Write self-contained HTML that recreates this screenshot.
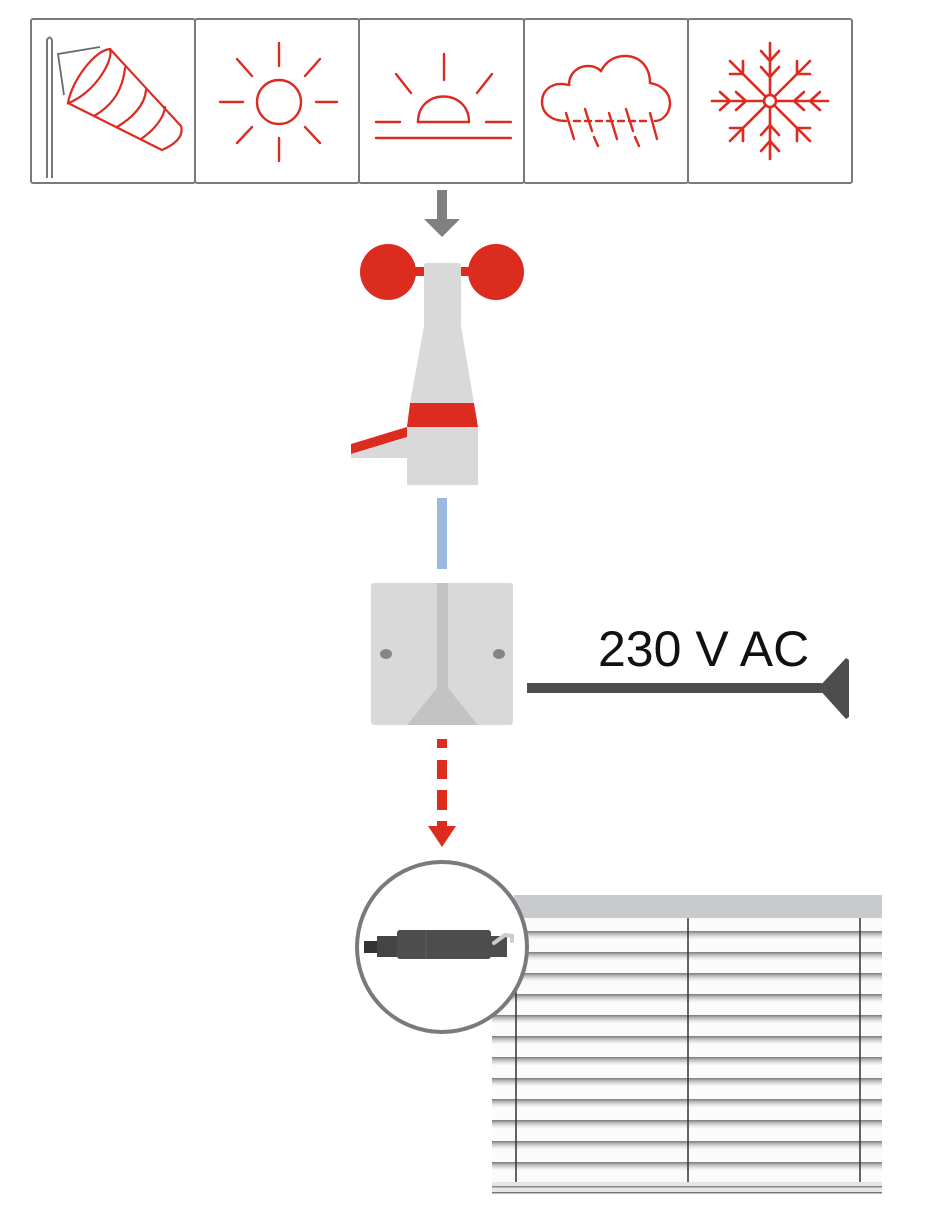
<!DOCTYPE html>
<html><head><meta charset="utf-8"><style>
html,body{margin:0;padding:0;background:#fff;}
svg{display:block;}
</style></head><body>
<svg width="948" height="1217" viewBox="0 0 948 1217" xmlns="http://www.w3.org/2000/svg">
<defs>
<linearGradient id="slat" x1="0" y1="0" x2="0" y2="1">
<stop offset="0" stop-color="#7a7a7c"/><stop offset="0.3" stop-color="#b8b8bb"/><stop offset="0.65" stop-color="#e6e6e8"/><stop offset="1" stop-color="#ffffff"/>
</linearGradient>
</defs>
<g fill="#fff" stroke="#7a7a7a" stroke-width="2">
<rect x="31" y="19" width="164" height="164" rx="2"/>
<rect x="195" y="19" width="164" height="164" rx="2"/>
<rect x="359" y="19" width="165" height="164" rx="2"/>
<rect x="524" y="19" width="164" height="164" rx="2"/>
<rect x="688" y="19" width="164" height="164" rx="2"/>
</g>
<path d="M47,178 L47,40 Q49.5,35 52,40 L52,178" fill="none" stroke="#6a6a6a" stroke-width="1.8"/>
<path d="M100,47 L58,54 L64,95" fill="none" stroke="#6a6a6a" stroke-width="1.8"/>
<g fill="none" stroke="#dc2b1f" stroke-width="2.2" stroke-linecap="round">
<path d="M68,103 C72,80 95,50 110,49 C114,62 92,95 68,103 Z"/>
<path d="M110,49 L181,126 Q185,140 162,150 L68,103"/>
<path d="M94,116 C108,108 122,95 125,68"/>
<path d="M117,127 C132,118 145,105 146,90"/>
<path d="M141,139 C154,130 164,118 165,107"/>
</g>
<g fill="none" stroke="#dc2b1f" stroke-width="2.4" stroke-linecap="round">
<ellipse cx="279" cy="102" rx="22" ry="22"/>
<line x1="279" y1="43" x2="279" y2="66"/><line x1="279" y1="138" x2="279" y2="161"/>
<line x1="220" y1="102" x2="243" y2="102"/><line x1="316" y1="102" x2="337" y2="102"/>
<line x1="237" y1="59" x2="252" y2="76"/><line x1="320" y1="59" x2="305" y2="76"/>
<line x1="252" y1="127" x2="237" y2="143"/><line x1="305" y1="127" x2="320" y2="143"/>
</g>
<g fill="none" stroke="#dc2b1f" stroke-width="2.4" stroke-linecap="round">
<path d="M418,122 C418,88 469,88 469,122 Z"/>
<line x1="376" y1="122" x2="400" y2="122"/><line x1="486" y1="122" x2="511" y2="122"/>
<line x1="376" y1="138" x2="511" y2="138"/>
<line x1="444" y1="54" x2="444" y2="80"/>
<line x1="396" y1="74" x2="411" y2="93"/><line x1="492" y1="74" x2="477" y2="93"/>
</g>
<g fill="none" stroke="#dc2b1f" stroke-width="2.4" stroke-linecap="round">
<path d="M566,121 C550,121 542,112 542,102 C542,90 552,83 563,84 L569,85 C569,73 578,66 588,66 C594,66 598,68 601,71 C606,61 615,56 625,56 C640,56 650,67 650,83 C662,85 670,93 670,103 C670,114 662,121 655,121"/>
<path d="M574,121 H649" stroke-dasharray="6 5"/>
<line x1="566" y1="113" x2="574" y2="139"/>
<line x1="585" y1="109" x2="592" y2="131"/><line x1="594" y1="137" x2="598" y2="146"/>
<line x1="609" y1="113" x2="617" y2="139"/>
<line x1="626" y1="109" x2="633" y2="131"/><line x1="635" y1="137" x2="639" y2="146"/>
<line x1="650" y1="113" x2="657" y2="139"/>
</g>
<g fill="none" stroke="#dc2b1f" stroke-width="2.6" stroke-linecap="round" transform="translate(770,101)">
<circle r="6"/>
<g id="arm"><line x1="0" y1="-6" x2="0" y2="-58"/><path d="M-9,-50 L0,-40 L9,-50"/><path d="M-9,-34 L0,-24 L9,-34"/></g>
<use href="#arm" transform="rotate(90)"/><use href="#arm" transform="rotate(180)"/><use href="#arm" transform="rotate(270)"/>
<g id="darm"><line x1="4" y1="-4" x2="40" y2="-40"/><path d="M27,-40 L27,-27 L40,-27"/></g>
<use href="#darm" transform="rotate(90)"/><use href="#darm" transform="rotate(180)"/><use href="#darm" transform="rotate(270)"/>
</g>
<rect x="437" y="190" width="10" height="29" fill="#808080"/>
<polygon points="424,219 460,219 442,237" fill="#808080"/>
<rect x="400" y="267" width="88" height="9" fill="#dc2b1f"/>
<circle cx="388" cy="272" r="28" fill="#dc2b1f"/>
<circle cx="496" cy="272" r="28" fill="#dc2b1f"/>
<rect x="424" y="263" width="37" height="64" rx="3" fill="#d9d9d9"/>
<polygon points="424,326 461,326 474,403 410,403" fill="#d9d9d9"/>
<polygon points="410,403 474,403 478,427 407,427" fill="#dc2b1f"/>
<rect x="407" y="427" width="71" height="58" fill="#d9d9d9"/>
<polygon points="351,444 407,427 407,437 351,454" fill="#dc2b1f"/>
<polygon points="351,454 407,437 407,458 351,458" fill="#d9d9d9"/>
<rect x="437" y="498" width="10" height="71" fill="#9ab8e0"/>
<rect x="371" y="583" width="142" height="142" rx="3" fill="#d9d9d9"/>
<rect x="437" y="583" width="11" height="106" fill="#c3c3c3"/>
<polygon points="437,688 448,688 478,725 407,725" fill="#c3c3c3"/>
<ellipse cx="386" cy="654" rx="6" ry="5" fill="#858585"/>
<ellipse cx="499" cy="654" rx="6" ry="5" fill="#858585"/>
<rect x="527" y="683" width="295" height="10" fill="#4d4d4d"/>
<polygon points="818,688 846,658 849,660 849,717 846,719" fill="#4d4d4d"/>
<text x="598" y="666" font-family="Liberation Sans, sans-serif" font-size="50" fill="#111">230 V AC</text>
<g fill="#dc2b1f">
<rect x="437" y="739" width="10" height="9"/>
<rect x="437" y="760" width="10" height="19"/>
<rect x="437" y="790" width="10" height="20"/>
<rect x="437" y="821" width="10" height="6"/>
<polygon points="428,826 456,826 442,847"/>
</g>
<rect x="514" y="895" width="368" height="23" fill="#c9cacd"/>
<rect x="492" y="918" width="390" height="264" fill="#fbfbfb"/>
<g fill="url(#slat)">
<rect x="492" y="931" width="390" height="9"/><rect x="492" y="952" width="390" height="9"/>
<rect x="492" y="973" width="390" height="9"/><rect x="492" y="994" width="390" height="9"/>
<rect x="492" y="1015" width="390" height="9"/><rect x="492" y="1036" width="390" height="9"/>
<rect x="492" y="1057" width="390" height="9"/><rect x="492" y="1078" width="390" height="9"/>
<rect x="492" y="1099" width="390" height="9"/><rect x="492" y="1120" width="390" height="9"/>
<rect x="492" y="1141" width="390" height="9"/><rect x="492" y="1162" width="390" height="9"/>
</g>
<g stroke="#333" stroke-width="1.5">
<line x1="516" y1="918" x2="516" y2="1182"/><line x1="688" y1="918" x2="688" y2="1182"/><line x1="860" y1="918" x2="860" y2="1182"/>
</g>
<rect x="492" y="1182" width="390" height="11" fill="#e6e6e8"/>
<rect x="492" y="1186" width="390" height="1.5" fill="#888"/>
<rect x="492" y="1192" width="390" height="1.5" fill="#777"/>
<circle cx="442" cy="947" r="85" fill="#fff" stroke="#7a7a7a" stroke-width="4"/>
<rect x="364" y="941" width="14" height="12" fill="#333"/>
<rect x="377" y="936" width="21" height="21" fill="#444"/>
<rect x="397" y="930" width="94" height="29" rx="3" fill="#4d4d4d"/>
<line x1="426" y1="930" x2="426" y2="959" stroke="#666" stroke-width="0.8"/>
<rect x="490" y="936" width="17" height="21" fill="#4d4d4d"/>
<path d="M494,943 L505,935 L512,936 L512,941" fill="none" stroke="#ccc" stroke-width="4" stroke-linecap="round"/>
</svg>
</body></html>
